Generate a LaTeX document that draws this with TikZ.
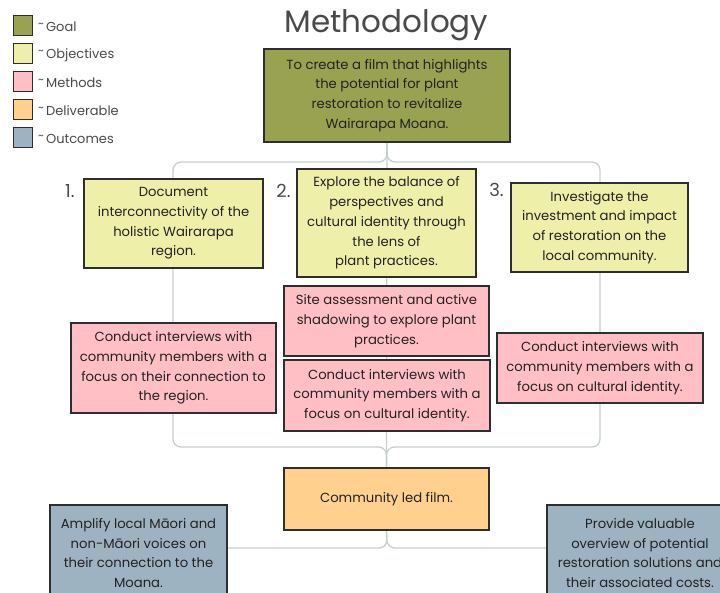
\documentclass[tikz,border=0pt]{standalone}
\usepackage{fontspec}
\setmainfont{Poppins}
\usetikzlibrary{backgrounds}
\definecolor{goalc}{HTML}{98A251}
\definecolor{objc}{HTML}{EEF0AA}
\definecolor{methc}{HTML}{FFBFC5}
\definecolor{delc}{HTML}{FFD08E}
\definecolor{outc}{HTML}{9EB3C2}
\definecolor{edgec}{HTML}{2E2E2E}
\definecolor{connc}{HTML}{C6D0CB}
\definecolor{ink}{HTML}{222222}
\definecolor{greyink}{HTML}{4A4A4A}
\begin{document}
\begin{tikzpicture}[x=1pt,y=-1pt,
  box/.style={draw=edgec,line width=1.3pt,align=center,inner sep=0pt,text=ink,
    font=\fontsize{13.2}{19.7}\selectfont},
  legbox/.style={draw=edgec,line width=1.3pt,minimum width=19pt,minimum height=20pt,inner sep=0pt},
  legtext/.style={anchor=west,text=greyink,inner sep=0pt,font=\fontsize{13}{15}\selectfont},
  num/.style={text=greyink,inner sep=0pt,font=\fontsize{18}{20}\selectfont},
  connline/.style={draw=connc,line width=1.3pt,rounded corners=8pt}]
\useasboundingbox (0,0) rectangle (720,593);
\clip (0,0) rectangle (720,593);

% legend
\newcommand{\tld}{\raisebox{0.3em}{\fontsize{11}{11}\selectfont\textasciitilde}\,}
\node[legbox,fill=goalc] (lg1) at (23,25.5) {};
\node[legbox,fill=objc] (lg2) at (23,53.5) {};
\node[legbox,fill=methc] (lg3) at (23,81.5) {};
\node[legbox,fill=delc] (lg4) at (23,109.5) {};
\node[legbox,fill=outc] (lg5) at (23,137.5) {};
\node[legtext] (lt1) at (38,27) {\tld Goal};
\node[legtext] (lt2) at (38,55) {\tld Objectives};
\node[legtext] (lt3) at (38,83) {\tld Methods};
\node[legtext] (lt4) at (38,111) {\tld Deliverable};
\node[legtext] (lt5) at (38,139) {\tld Outcomes};

% title
\node[text=greyink,inner sep=0pt,font=\fontsize{31}{36}\selectfont] (title) at (386.5,25) {Methodology};

% goal
\node[box,fill=goalc,minimum width=246pt,minimum height=93pt] (goal) at (387,95.5)
  {To create a film that highlights\\the potential for plant\\restoration to revitalize\\Wairarapa Moana.};

% objectives
\node[box,fill=objc,minimum width=179pt,minimum height=89pt] (obj1) at (173.5,223.5)
  {Document\\interconnectivity of the\\holistic Wairarapa\\region.};
\node[box,fill=objc,minimum width=179pt,minimum height=108pt] (obj2) at (386.5,223)
  {Explore the balance of\\perspectives and\\cultural identity through\\the lens of\\plant practices.};
\node[box,fill=objc,minimum width=177pt,minimum height=89pt] (obj3) at (599.5,227.5)
  {Investigate the\\investment and impact\\of restoration on the\\local community.};
\node[num] (n1) at (70,191) {1.};
\node[num] (n2) at (283.5,191) {2.};
\node[num] (n3) at (496.5,190) {3.};

% methods
\node[box,fill=methc,minimum width=205pt,minimum height=90pt] (m1) at (173.5,368)
  {Conduct interviews with\\community members with a\\focus on their connection to\\the region.};
\node[box,fill=methc,minimum width=205pt,minimum height=70pt] (m2a) at (386.5,321)
  {Site assessment and active\\shadowing to explore plant\\practices.};
\node[box,fill=methc,minimum width=206pt,minimum height=71pt] (m2b) at (387,395.5)
  {Conduct interviews with\\community members with a\\focus on cultural identity.};
\node[box,fill=methc,minimum width=206pt,minimum height=70pt] (m3) at (600,368)
  {Conduct interviews with\\community members with a\\focus on cultural identity.};

% deliverable
\node[box,fill=delc,minimum width=205pt,minimum height=62pt] (film) at (386.5,499)
  {Community led film.};

% outcomes
\node[box,fill=outc,minimum width=177pt,minimum height=96pt] (out1) at (138.5,553)
  {Amplify local Māori and\\non-Māori voices on\\their connection to the\\Moana.};
\node[box,fill=outc,minimum width=186pt,minimum height=96pt] (out2) at (640,553)
  {Provide valuable\\overview of potential\\restoration solutions and\\their associated costs.};

% connectors
\coordinate (tl) at (173,162);
\coordinate (tr) at (600,162);
\coordinate (bl) at (173,447);
\coordinate (br) at (600,447);
\coordinate (bj) at (387,548);
\begin{scope}[on background layer]
\draw[connline] (goal.south) -- (goal.south |- tl) -- (tl) -- (bl) -- (film.north |- bl) -- (film.north);
\draw[connline] (goal.south) -- (goal.south |- tr) -- (tr) -- (br) -- (film.north |- br) -- (film.north);
\draw[draw=connc,line width=1.3pt] (goal.south) -- (film.north);
\draw[connline] (film.south) -- (bj) -- (out1.east |- bj);
\draw[connline] (film.south) -- (bj) -- (out2.west |- bj);
\end{scope}
\end{tikzpicture}
\end{document}
